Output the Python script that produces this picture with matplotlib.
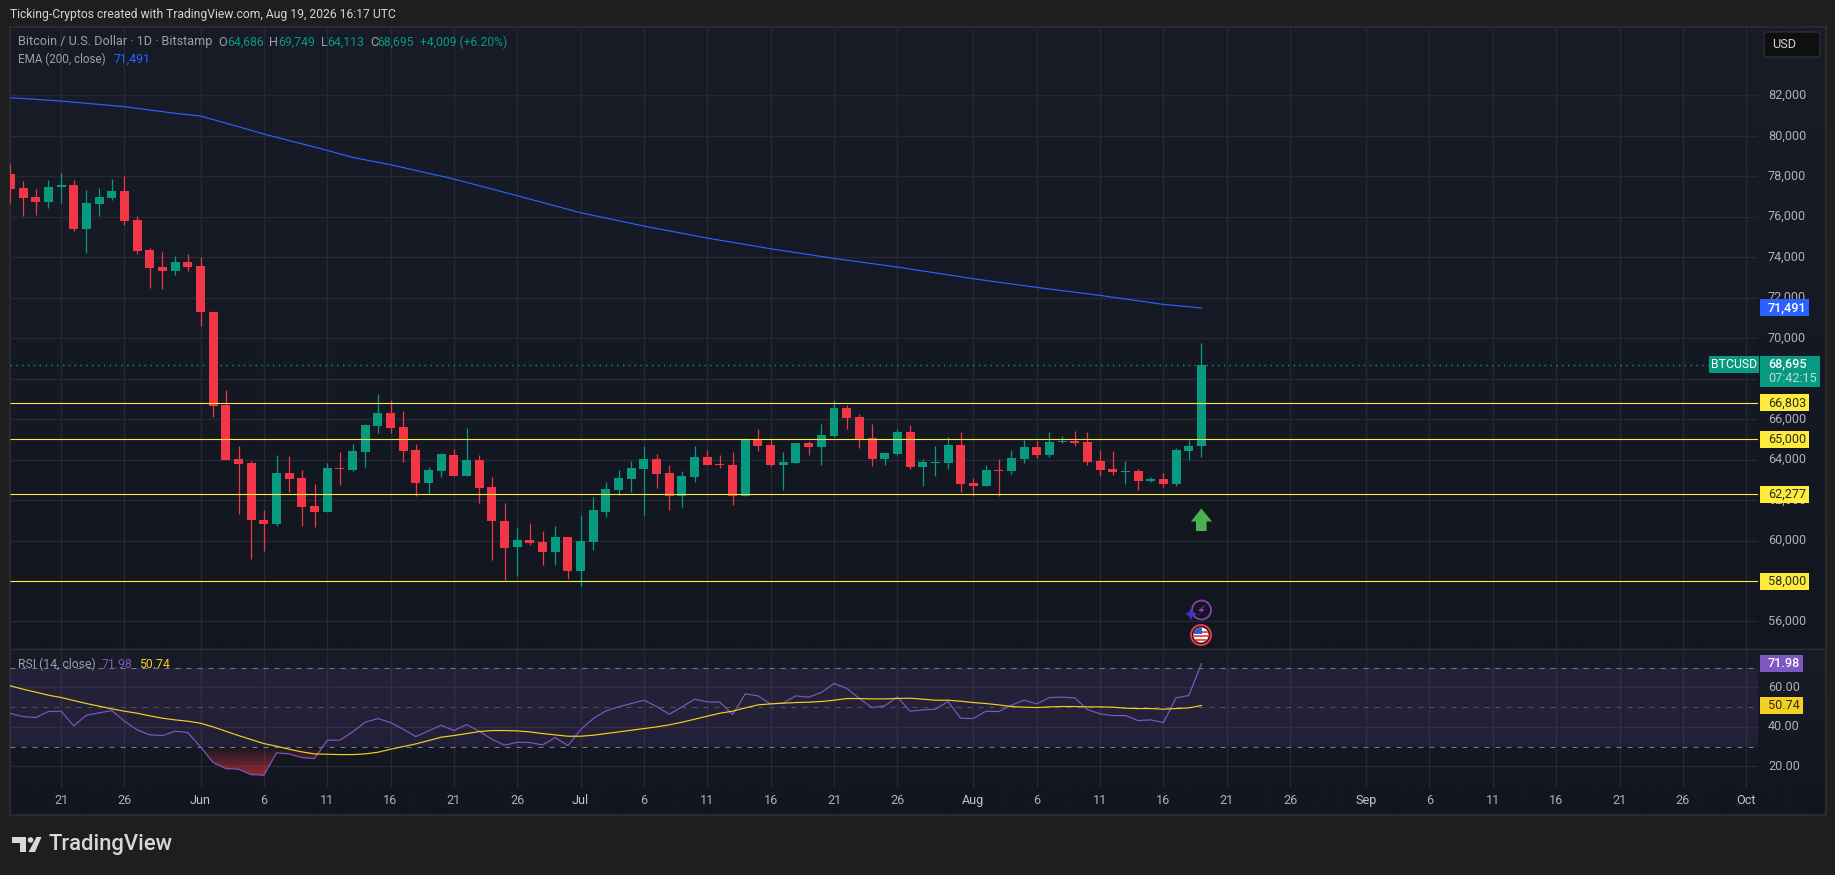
import numpy as np
import pandas as pd
import matplotlib
matplotlib.use('Agg')
import matplotlib.pyplot as plt
import matplotlib.dates as mdates
from matplotlib.patches import Rectangle, Circle, Polygon, FancyBboxPatch
from matplotlib.path import Path
from matplotlib.transforms import blended_transform_factory

plt.rcParams['font.family'] = ['Roboto', 'DejaVu Sans']

opens = [78110, 77418, 76973, 76726, 77467, 77566, 75391, 76627, 76924, 77270, 75836, 74353, 73513, 73315, 73760, 73562,
         71289, 66692, 64022, 63825, 61007, 60809, 63330, 63083, 61699, 61403, 63578, 63479, 64368, 65654, 66296, 65604,
         64467, 62836, 63430, 64220, 63182, 63973, 62638, 60958, 59672, 60018, 59920, 59425, 60167, 58486,
         59920, 61403, 62490, 63034, 63528, 64022, 63330, 62193, 63133, 64121, 63775, 63726, 62193, 64995, 64714, 63726,
         63825, 64813, 64615, 65159, 66543, 66099, 65061, 64022, 64270, 65357, 63627, 63825, 63825, 64715,
         62836, 62688, 63479, 63429, 64022, 64616, 64220, 64863, 64912, 64863, 63924, 63528, 63380, 63429, 62935, 63034,
         62787, 64418, 64686]
highs = [78604, 77764, 77369, 77813, 78159, 77813, 77319, 77418, 77863, 78011, 76034, 74452, 74255, 74057, 74156, 74007,
         71338, 67433, 64665, 63924, 61501, 64220, 64171, 63479, 62787, 63825, 64368, 64764, 65753, 67235, 66939, 66395,
         64764, 63627, 64319, 64517, 65555, 64220, 63133, 61847, 60661, 60859, 60463, 60710, 60167, 61254,
         62144, 62885, 63479, 63924, 64665, 64270, 63726, 63429, 64665, 64467, 64220, 64368, 65060, 65505, 64995, 64368,
         64813, 64912, 65752, 66939, 66692, 66247, 65752, 64368, 65505, 65703, 64022, 64665, 65110, 65357,
         63083, 63726, 64022, 64467, 64961, 64912, 65357, 65159, 65407, 65357, 64467, 64418, 63924, 63528, 63133, 63330,
         64566, 64961, 69749]
lows = [76693, 76034, 76083, 76429, 76693, 75292, 74205, 76034, 76825, 75589, 74156, 72475, 72425, 73117, 73315, 70597,
        66099, 63973, 61304, 59079, 59475, 60711, 62391, 60711, 60661, 61403, 62737, 63430, 63627, 65308, 65308, 63874,
        62194, 62292, 63133, 63182, 63182, 61847, 59030, 58041, 58239, 59771, 58783, 58783, 58091, 57745,
        59524, 61155, 62243, 62391, 61254, 62589, 61501, 61650, 62885, 63726, 63577, 61749, 62193, 64418, 63676, 62490,
        63825, 64220, 63726, 65110, 65505, 64566, 63676, 63726, 64220, 63528, 62688, 63182, 63528, 62391,
        62193, 62688, 62193, 63281, 63825, 64072, 64121, 64813, 64665, 63726, 63182, 63231, 62787, 62490, 62886, 62638,
        62688, 63973, 64113]
closes = [77385, 76924, 76726, 77467, 77566, 75391, 76677, 76973, 77270, 75787, 74304, 73463, 73315, 73760, 73513, 71289,
          66642, 63973, 63775, 61007, 60809, 63330, 63034, 61650, 61403, 63578, 63528, 64418, 65703, 66296, 65555, 64418,
          62836, 63479, 64270, 63182, 63973, 62589, 60958, 59623, 60018, 59870, 59425, 60167, 58486, 59969,
          61501, 62539, 63083, 63577, 64022, 63281, 62193, 63182, 64121, 63726, 63726, 62193, 64995, 64665, 63726, 63874,
          64813, 64615, 65209, 66543, 66049, 65011, 64022, 64319, 65357, 63627, 63874, 63874, 64715, 62787,
          62688, 63479, 63429, 64072, 64616, 64220, 64863, 64912, 64813, 63874, 63479, 63380, 63429, 62935, 63034, 62787,
          64467, 64665, 68695]

rsi = [46.71, 45.19, 44.68, 47.72, 47.89, 40.46, 45.87, 47.05, 48.23, 42.83, 38.44, 35.91, 35.57, 37.76, 37.09, 29.83,
       21.90, 18.86, 18.52, 15.82, 15.48, 26.79, 26.29, 24.43, 23.92, 33.21, 33.21, 37.43, 42.32, 44.18, 42.15, 38.78,
       35.06, 37.93, 40.80, 38.10, 41.14, 37.76, 33.71, 30.68, 32.19, 32.03, 30.84, 34.56, 30.51, 38.61,
       44.18, 48.06, 50.08, 51.77, 53.46, 50.25, 46.37, 50.08, 53.97, 52.62, 52.45, 46.20, 56.67, 55.65, 51.60, 52.11,
       55.65, 54.98, 57.34, 61.90, 59.54, 54.30, 49.75, 50.59, 55.15, 47.89, 48.57, 48.90, 52.79, 44.35,
       44.18, 47.89, 47.72, 50.93, 53.46, 51.60, 54.81, 54.98, 54.64, 48.73, 46.54, 45.69, 45.69, 43.16, 43.50, 42.15,
       54.64, 55.82, 71.98]
rsi_ma = [60.72, 59.03, 57.51, 55.99, 54.81, 53.29, 51.77, 50.42, 49.07, 47.89, 46.88, 45.53, 44.35, 43.50, 42.83, 41.81,
          39.96, 37.76, 35.57, 33.54, 31.52, 30.17, 28.65, 27.30, 26.29, 26.12, 25.95, 25.95, 26.29, 27.13, 28.65, 30.00,
          31.35, 33.04, 34.73, 35.57, 36.58, 37.60, 38.10, 38.10, 37.93, 37.43, 36.58, 35.91, 35.23, 35.23,
          35.74, 36.58, 37.43, 38.27, 39.11, 39.96, 40.97, 42.32, 43.84, 45.36, 46.88, 47.89, 49.58, 51.10, 51.60, 51.94,
          52.28, 52.45, 52.79, 53.46, 54.30, 54.30, 54.13, 54.13, 54.30, 54.47, 53.97, 53.46, 53.46, 52.95,
          52.28, 51.77, 51.10, 50.25, 49.92, 49.75, 50.08, 50.25, 50.25, 50.08, 50.08, 49.92, 49.41, 49.24, 49.24, 48.90,
          49.24, 49.58, 50.74]

ema_dates = ['2026-05-17', '2026-05-21', '2026-05-26', '2026-05-30', '2026-06-01', '2026-06-04', '2026-06-06',
             '2026-06-11', '2026-06-13', '2026-06-16', '2026-06-21', '2026-06-26', '2026-07-01', '2026-07-06',
             '2026-07-11', '2026-07-16', '2026-07-21', '2026-07-26', '2026-08-01', '2026-08-06', '2026-08-11',
             '2026-08-16', '2026-08-19']
ema_values = [81882, 81718, 81438, 81110, 80977, 80450, 80087, 79280, 78934, 78572, 77863, 77039, 76199, 75539,
              74946, 74419, 73941, 73513, 72937, 72508, 72113, 71668, 71491]

levels = [66803, 65000, 62277, 58000]
price_ticks = [82000, 80000, 78000, 76000, 74000, 72000, 70000, 68000, 66000, 64000, 62000, 60000, 58000, 56000]
rsi_ticks = [60, 40, 20]
time_ticks = ['2026-05-21', '2026-05-26', '2026-06-01', '2026-06-06', '2026-06-11', '2026-06-16', '2026-06-21',
              '2026-06-26', '2026-07-01', '2026-07-06', '2026-07-11', '2026-07-16', '2026-07-21', '2026-07-26',
              '2026-08-01', '2026-08-06', '2026-08-11', '2026-08-16', '2026-08-21', '2026-08-26', '2026-09-01',
              '2026-09-06', '2026-09-11', '2026-09-16', '2026-09-21', '2026-09-26', '2026-10-01']
time_labels = ['21', '26', 'Jun', '6', '11', '16', '21', '26', 'Jul', '6', '11', '16', '21', '26', 'Aug', '6', '11',
               '16', '21', '26', 'Sep', '6', '11', '16', '21', '26', 'Oct']

GREEN = '#089981'
RED = '#f23645'
YELLOW = '#ffeb3b'
BLUE = '#2962ff'
PURPLE = '#7e57c2'
MA_YELLOW = '#f5d020'
GRID = '#262933'
TXT = '#aeb1ba'
W, H = 1835, 875


def box(x0, y0, x1, y1):
    # pixel box (y from the top) to figure fractions
    return [x0 / W, 1 - y1 / H, (x1 - x0) / W, (y1 - y0) / H]


fig = plt.figure(figsize=(18.35, 8.75), dpi=100, facecolor='#1e1e1e')

# page layer in pixel coordinates
bg = fig.add_axes([0, 0, 1, 1], zorder=0)
bg.set_xlim(0, W)
bg.set_ylim(H, 0)
bg.axis('off')


def pane_gradient(y0, y1, top, bottom):
    grad = np.zeros((64, 1, 3))
    c0 = np.array(matplotlib.colors.to_rgb(top))
    c1 = np.array(matplotlib.colors.to_rgb(bottom))
    for i in range(64):
        grad[i, 0] = c0 + (c1 - c0) * i / 63
    bg.imshow(grad, extent=[10, 1825, y1, y0], aspect='auto', interpolation='bilinear')


pane_gradient(27, 648.5, '#181c27', '#12161f')
pane_gradient(648.5, 787, '#181c27', '#12161f')
pane_gradient(787, 815, '#12161f', '#12161f')
bg.set_xlim(0, W)
bg.set_ylim(H, 0)
bg.add_patch(Rectangle((9.5, 26.5), 1816, 788.5, fill=False, ec='#2b2c2f', lw=1.4))
bg.plot([10, 1825], [648.5, 648.5], color='#2a2e39', lw=1)

dates = pd.date_range('2026-05-17', periods=len(closes))
x = mdates.date2num(dates)
base = mdates.date2num(pd.Timestamp('2026-06-01'))
xlim = (base + (10 - 200.5) / 12.67, base + (1758 - 200.5) / 12.67)
tick_x = mdates.date2num(pd.to_datetime(time_ticks))

# price pane
ax = fig.add_axes(box(10, 27, 1758, 648.5), zorder=1)
ax.patch.set_visible(False)
ax.set_xlim(*xlim)
ax.set_ylim(54665, 85376)
for s in ax.spines.values():
    s.set_visible(False)
ax.set_xticks([])
ax.set_yticks([])
for t in tick_x:
    ax.axvline(t, color=GRID, lw=1, zorder=1)
for p in price_ticks:
    ax.axhline(p, color=GRID, lw=1, zorder=1)

o = np.array(opens)
c = np.array(closes)
colors = [GREEN if c[i] >= o[i] else RED for i in range(len(c))]
ax.vlines(x, lows, highs, colors=colors, lw=0.9, zorder=3)
ax.bar(x, np.abs(c - o), bottom=np.minimum(o, c), width=0.71, color=colors, lw=0, zorder=4)

ax.plot(mdates.date2num(pd.to_datetime(ema_dates)), ema_values, color=BLUE, lw=0.85, zorder=5)
ax.hlines(levels, xlim[0], xlim[1], colors=YELLOW, lw=0.8, zorder=6)
ax.hlines(closes[-1], xlim[0], base + (1709 - 200.5) / 12.67, colors=GREEN, lw=1,
          linestyles=(0, (1, 3.2)), zorder=2)

# RSI pane
ax2 = fig.add_axes(box(10, 648.5, 1758, 787), zorder=1)
ax2.patch.set_visible(False)
ax2.set_xlim(*xlim)
ax2.set_ylim(9.54, 79.62)
for s in ax2.spines.values():
    s.set_visible(False)
ax2.set_xticks([])
ax2.set_yticks([])
for t in tick_x:
    ax2.axvline(t, color=GRID, lw=1, zorder=1)
for v in rsi_ticks:
    ax2.axhline(v, color=GRID, lw=1, zorder=1)
ax2.axhspan(30, 70, color=PURPLE, alpha=0.13, lw=0, zorder=1.5)
ax2.axhline(70, color='#787b86', lw=0.72, ls=(0, (5, 6)), zorder=2)
ax2.axhline(50, color='#787b86', lw=0.72, alpha=0.55, ls=(0, (5, 6)), zorder=2)
ax2.axhline(30, color='#787b86', lw=0.72, ls=(0, (5, 6)), zorder=2)

# oversold shading, fades out towards the 30 line
rsi_arr = np.array(rsi)
poly = ax2.fill_between(x, rsi_arr, 30, where=rsi_arr < 30, interpolate=True, color='none')
grad = np.zeros((64, 1, 4))
grad[:, 0, :3] = matplotlib.colors.to_rgb(RED)
grad[:, 0, 3] = np.linspace(0, 0.6, 64)
im = ax2.imshow(grad, extent=[xlim[0], xlim[1], 15, 30], aspect='auto', zorder=2.5, interpolation='bilinear')
im.set_clip_path(Path.make_compound_path(*poly.get_paths()), transform=ax2.transData)
ax2.set_xlim(*xlim)
ax2.set_ylim(9.54, 79.62)

ax2.plot(x, rsi, color=PURPLE, lw=0.85, zorder=3)
ax2.plot(x, rsi_ma, color=MA_YELLOW, lw=0.85, zorder=4)

# everything that sits over the panes, pixel coordinates
top = fig.add_axes([0, 0, 1, 1], zorder=5)
top.set_xlim(0, W)
top.set_ylim(H, 0)
top.axis('off')
top.patch.set_visible(False)

top.text(10, 14.5, 'Ticking-Cryptos created with TradingView.com, Aug 19, 2026 16:17 UTC', color='#d4d4d4',
         fontsize=8.7, va='center')

FS = 9.1
LEG = '#9ea1aa'
top.text(18, 42, 'Bitcoin / U.S. Dollar · 1D · Bitstamp', color=LEG, fontsize=FS, va='center')
for lx, letter, vx, val in [(218, 'O', 227, '64,686'), (269, 'H', 278, '69,749'),
                            (321, 'L', 327, '64,113'), (370, 'C', 377, '68,695')]:
    top.text(lx, 42, letter, color=LEG, fontsize=FS, va='center')
    top.text(vx, 42, val, color=GREEN, fontsize=8.8, va='center')
top.text(420, 42, '+4,009 (+6.20%)', color=GREEN, fontsize=8.7, va='center')
top.text(18, 59, 'EMA (200, close)', color=LEG, fontsize=8.4, va='center')
top.text(114, 59, '71,491', color=BLUE, fontsize=8.8, va='center')
top.text(18, 664, 'RSI (14, close)', color=LEG, fontsize=8.8, va='center')
top.text(102, 664, '71.98', color=PURPLE, fontsize=8.8, va='center')
top.text(139, 664, '50.74', color=MA_YELLOW, fontsize=8.8, va='center')

top.add_patch(FancyBboxPatch((1764, 32), 56, 25, boxstyle='round,pad=0,rounding_size=3', fc='#0f0f0f', ec='#2a2e39', lw=1))
top.text(1772, 44.5, 'USD', color='#d1d4dc', fontsize=FS, va='center')

# axis labels
for tx, lab in zip(time_ticks, time_labels):
    px = 200.5 + 12.67 * (mdates.date2num(pd.Timestamp(tx)) - base)
    top.text(px, 800.5, lab, color='#c3c5cc' if lab in ('Jun', 'Jul', 'Aug', 'Sep', 'Oct') else TXT,
             fontsize=FS, ha='center', va='center')

price_tf = blended_transform_factory(top.transData, ax.transData)
rsi_tf = blended_transform_factory(top.transData, ax2.transData)
for p in price_ticks:
    top.text(1768, p, f'{p:,}', color=TXT, fontsize=FS, va='center', transform=price_tf)
for v in rsi_ticks:
    top.text(1768, v, f'{v:.2f}', color=TXT, fontsize=FS, va='center', transform=rsi_tf)


def tag(value, label, bg_col, fg, tf, scale, x1=1809):
    # scale = data units per pixel of that pane
    top.add_patch(Rectangle((1760, value - 8.5 * scale), x1 - 1760, 17 * scale, transform=tf, fc=bg_col, lw=0,
                            zorder=3, clip_on=False))
    top.text(1768, value, label, color=fg, fontsize=FS, va='center', transform=tf, zorder=4,
             fontweight='medium' if fg == 'white' else 'normal')


for lev in levels:
    tag(lev, f'{lev:,}', YELLOW, '#2a2a2a', price_tf, 49.43)
tag(ema_values[-1], '71,491', BLUE, 'white', price_tf, 49.43)
tag(rsi[-1], '71.98', PURPLE, 'white', rsi_tf, 0.506, x1=1803)
tag(rsi_ma[-1], '50.74', MA_YELLOW, '#2a2a2a', rsi_tf, 0.506, x1=1803)

top.add_patch(Rectangle((1709, 356), 50, 17, fc=GREEN, lw=0, zorder=3))
top.text(1734, 364.5, 'BTCUSD', color='white', fontsize=8.8, ha='center', va='center', zorder=4)
top.add_patch(Rectangle((1760, 356), 60, 31, fc=GREEN, lw=0, zorder=3))
top.text(1768, 364, '68,695', color='white', fontsize=FS, fontweight='medium', va='center', zorder=4)
top.text(1768, 378, '07:42:15', color='#b5e0d6', fontsize=FS, va='center', zorder=4)

# arrow and event icons above the last candle
top.add_patch(Polygon([(1201.3, 508.5), (1212, 521.5), (1206.6, 521.5), (1206.6, 531), (1196, 531), (1196, 521.5),
                       (1191, 521.5)], fc='#4caf50', lw=0))
top.add_patch(Circle((1201.5, 610), 9.5, fc='none', ec='#8e3fb0', lw=1.3))
top.add_patch(Polygon([(1206, 604), (1198, 611), (1202, 611), (1197, 616), (1205, 609.5), (1201.5, 609.5)],
                      fc='#a03cc0', lw=0))
top.add_patch(Polygon([(1191, 608), (1193, 612), (1197, 614), (1193, 616), (1191, 620), (1189, 616), (1185, 614),
                       (1189, 612)], fc='#4a2fc0', lw=0))
top.add_patch(Circle((1201, 635), 10, fc='#14171f', ec=RED, lw=1.4))
flag = Circle((1201, 635), 7.6, transform=top.transData, fc='white', lw=0)
top.add_patch(flag)
for fy in (630.5, 634.5, 638.5):
    r = Rectangle((1193, fy), 16, 2.2, fc='#ef5350', lw=0)
    top.add_patch(r)
    r.set_clip_path(flag)
canton = Rectangle((1193, 627), 8.5, 7, fc='#2f5fd0', lw=0)
top.add_patch(canton)
canton.set_clip_path(flag)

# logo
top.add_patch(Polygon([(12, 837), (26, 837), (26, 852), (19.5, 852), (19.5, 842.5), (12, 842.5)], fc='#d8d8d8', lw=0))
top.add_patch(Circle((30.5, 840), 2.8, fc='#d8d8d8', lw=0))
top.add_patch(Polygon([(36.5, 837), (41.5, 837), (35, 852), (28.5, 852)], fc='#d8d8d8', lw=0))
top.text(48.5, 844.5, 'TradingView', color='#d8d8d8', fontsize=15.8, fontweight='medium', va='center')

fig.savefig('out.png', dpi=100, facecolor=fig.get_facecolor())
